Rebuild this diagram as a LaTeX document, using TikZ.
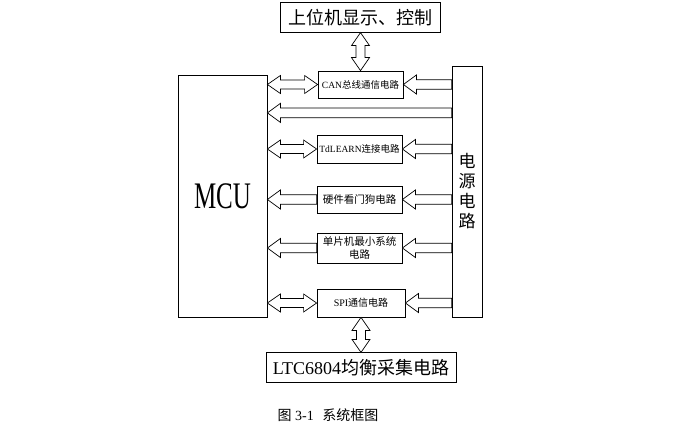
\documentclass[tikz,border=0pt]{standalone}
\usepackage{fontspec}
\setmainfont{Liberation Serif}
\newfontfamily\cjk{Noto Sans CJK SC}
\usepackage{graphicx}
\usetikzlibrary{calc,positioning}

\newcommand{\zh}[1]{{\cjk #1}}

\tikzset{
  % plain boxes
  blk/.style={
    rectangle, draw=black, line width=0.8pt, inner sep=0pt,
    align=center, text=black,
  },
  smallbox/.style={
    blk, minimum width=85pt, minimum height=28pt,
    font=\fontsize{9.5}{13}\selectfont,
  },
  bigbox/.style={
    blk, minimum width=#1, minimum height=30pt,
    font=\fontsize{18}{20}\selectfont,
  },
  bigbox/.default={160pt},
  % hollow block arrows, head at the target
  harr/.style={
    draw=black, line width=0.7pt, fill=white,
    to path={
      ($(\tikztostart)!4.8pt!90:(\tikztotarget)$)
      -- ($(\tikztotarget)!13pt!(\tikztostart)!4.8pt!90:(\tikztotarget)$)
      -- ($(\tikztotarget)!13pt!(\tikztostart)!9.5pt!90:(\tikztotarget)$)
      -- (\tikztotarget)
      -- ($(\tikztotarget)!13pt!(\tikztostart)!9.5pt!-90:(\tikztotarget)$)
      -- ($(\tikztotarget)!13pt!(\tikztostart)!4.8pt!-90:(\tikztotarget)$)
      -- ($(\tikztostart)!4.8pt!-90:(\tikztotarget)$) -- cycle
    },
  },
  % hollow block arrows, heads at both ends
  hdarr/.style={
    draw=black, line width=0.7pt, fill=white,
    to path={
      (\tikztostart)
      -- ($(\tikztostart)!13pt!(\tikztotarget)!9pt!90:(\tikztotarget)$)
      -- ($(\tikztostart)!13pt!(\tikztotarget)!4.5pt!90:(\tikztotarget)$)
      -- ($(\tikztotarget)!13pt!(\tikztostart)!4.5pt!90:(\tikztotarget)$)
      -- ($(\tikztotarget)!13pt!(\tikztostart)!9pt!90:(\tikztotarget)$)
      -- (\tikztotarget)
      -- ($(\tikztotarget)!13pt!(\tikztostart)!9pt!-90:(\tikztotarget)$)
      -- ($(\tikztotarget)!13pt!(\tikztostart)!4.5pt!-90:(\tikztotarget)$)
      -- ($(\tikztostart)!13pt!(\tikztotarget)!4.5pt!-90:(\tikztotarget)$)
      -- ($(\tikztostart)!13pt!(\tikztotarget)!9pt!-90:(\tikztotarget)$)
      -- cycle
    },
  },
}

\begin{document}
\begin{tikzpicture}[x=1pt, y=-1pt]
  \useasboundingbox (0,0) rectangle (690,441);

  % MCU and power supply
  \node[blk, minimum width=89pt, minimum height=242pt] (mcu) at (222.5,196)
    {\scalebox{1}[1.5]{\fontsize{25}{25}\selectfont MCU}};
  \node[blk, minimum width=30pt, minimum height=251pt,
        font=\cjk\fontsize{17}{20}\selectfont] (pwr) at (467,191.5)
    {电\\源\\电\\路};

  % middle column
  \node[smallbox, minimum height=27pt] (can) at (360.5,84.5) {CAN\zh{总线通信电路}};
  \node[smallbox] (tdl) at (359.5,149) {TdLEARN\zh{连接电路}};
  \node[smallbox, minimum height=27pt, font=\cjk\fontsize{10.5}{13}\selectfont] (wdg) at (359.5,199.5) {硬件看门狗电路};
  \node[smallbox, minimum height=30pt, font=\cjk\fontsize{10.5}{13}\selectfont] (mini) at (359.5,248) {单片机最小系统\\电路};
  \node[smallbox, minimum width=88pt, font=\fontsize{10}{13}\selectfont] (spi) at (361,303) {SPI\zh{通信电路}};

  % host and sampling
  \node[bigbox, font=\cjk\fontsize{18}{20}\selectfont, above=38pt of can] (host) {上位机显示、控制};
  \node[bigbox=190pt, below=35pt of spi] (ltc) {LTC6804\zh{均衡采集电路}};

  % caption
  \node[font=\fontsize{14}{16}\selectfont] (cap) at (328,415) {\zh{图} 3-1\hspace{0.6em}\zh{系统框图}};

  % arrows
  \coordinate (pwrtap) at ($(can.south)!0.4!(tdl.north)$);
  \draw[hdarr] (can.north) to (can.north |- host.south);
  \draw[hdarr] (mcu.east |- can) to (can.west);
  \draw[harr] (pwr.west |- can) to (can.east);
  \draw[harr] (pwr.west |- pwrtap) to (mcu.east |- pwrtap);
  \draw[hdarr] (mcu.east |- tdl) to (tdl.west);
  \draw[harr] (pwr.west |- tdl) to (tdl.east);
  \draw[harr] (wdg.west) to (mcu.east |- wdg);
  \draw[harr] (pwr.west |- wdg) to (wdg.east);
  \draw[harr] (mini.west) to (mcu.east |- mini);
  \draw[harr] (pwr.west |- mini) to (mini.east);
  \draw[hdarr] (mcu.east |- spi) to (spi.west);
  \draw[harr] (pwr.west |- spi) to (spi.east);
  \draw[hdarr] (spi.south) to (spi.south |- ltc.north);

\end{tikzpicture}
\end{document}
